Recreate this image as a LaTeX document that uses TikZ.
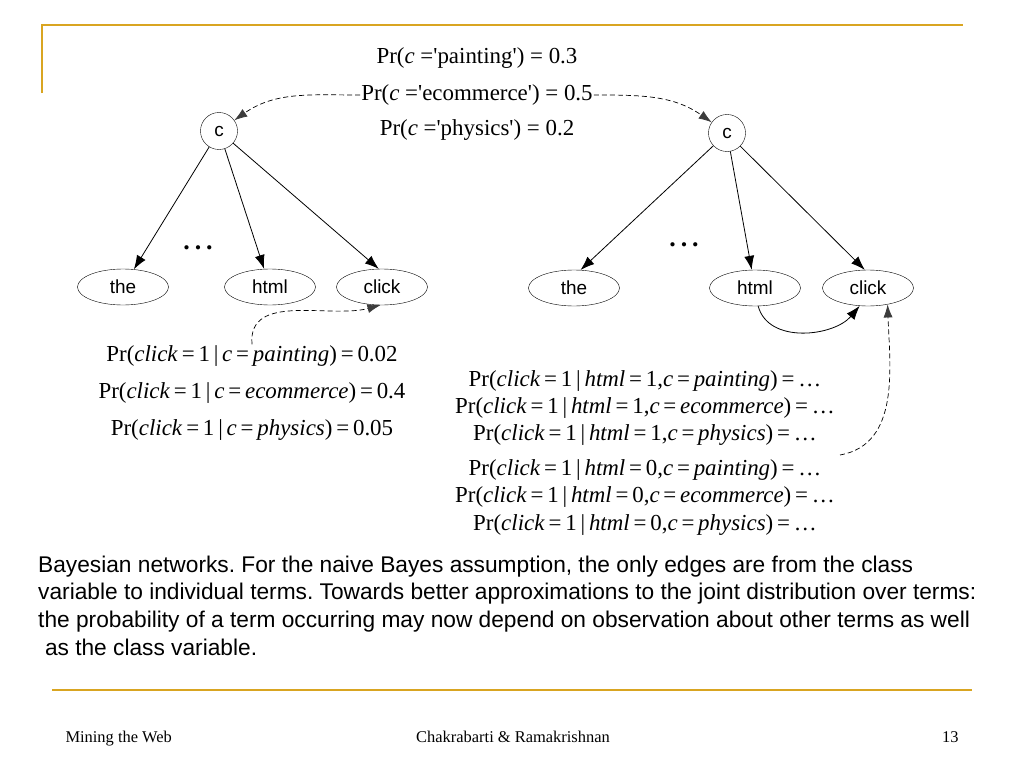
\documentclass[tikz,border=0pt]{standalone}
\usepackage{fontspec}
\setmainfont{Liberation Serif}
\setsansfont{Liberation Sans}
\usepackage{tikz}
\usetikzlibrary{shapes.geometric,arrows.meta}
\definecolor{rulegold}{HTML}{D9A521}
\definecolor{tipgray}{HTML}{3C3C3C}
\newcommand{\lpr}[2]{% class only
Pr(\textit{click}\,=\,1\,|\,\textit{c}\,=\,\textit{#1})\,=\,#2}
\newcommand{\rpr}[2]{% class and html
Pr(\textit{click}\,=\,1\,|\,\textit{html}\,=\,#1,\textit{c}\,=\,\textit{#2})\,=\,\ldots}
\newcommand{\qs}{\textquotesingle}
\newcommand{\spdots}{.\hspace{5bp}.\hspace{5bp}.}
\tikzstyle{classnode} =[
    draw,
    circle,
    minimum size=37bp,
    inner sep=0pt,
    font=\sffamily\fontsize{19}{21}\selectfont
    ]
\tikzstyle{termnode} = [
    draw,
    ellipse,
    minimum width=91bp,
    minimum height=36bp,
    inner sep=0pt,
    font=\sffamily\fontsize{19}{21}\selectfont
    ]
\tikzstyle{edge} = [
    line width=0.8bp,
    -{Latex[length=14bp,width=10bp]}
    ]
\tikzstyle{probedge} = [
    line width=0.7bp,
    dash pattern=on 5bp off 3bp,
    -{Latex[length=13bp,width=9bp,color=tipgray]}
    ]
\tikzstyle{probtext} = [
    inner sep=1bp,
    font=\fontsize{23}{25}\selectfont
    ]
\tikzstyle{smallprob} = [
    inner sep=0bp,
    font=\fontsize{23}{25}\selectfont
    ]
\tikzstyle{dotsnode} = [
    inner sep=0pt,
    anchor=base,
    font=\bfseries\fontsize{26}{28}\selectfont
    ]
\tikzstyle{goldrule} = [
    draw=rulegold,
    line width=2.5bp
    ]

\begin{document}
\frenchspacing
\begin{tikzpicture}[x=1bp,y=-1bp]
\useasboundingbox (0,0) rectangle (1024,768);
\fill[white] (0,0) rectangle (1024,768);
\draw[goldrule] (42,93) -- (42,25) -- (963,25);
\draw[goldrule] (52,690) -- (972,690);

% prior of the class
\node[probtext] (pc1) at (477,58) {Pr(\textit{c} =\qs painting\qs) = 0.3};
\node[probtext] (pc2) at (477,95) {Pr(\textit{c} =\qs ecommerce\qs) = 0.5};
\node[probtext] (pc3) at (477,130) {Pr(\textit{c} =\qs physics\qs) = 0.2};

% naive Bayes
\node[classnode] (cL) at (219,131) {c};
\node[termnode] (theL) at (123,287) {the};
\node[termnode] (htmlL) at (270,287) {html};
\node[termnode] (clickL) at (382,287) {click};
\node[dotsnode] (dotsL) at (198,249) {\spdots};
\draw[edge] (cL) -- (theL);
\draw[edge] (cL) -- (htmlL);
\draw[edge] (cL) -- (clickL.100);

% with an edge between terms
\node[classnode] (cR) at (727,133) {c};
\node[termnode] (theR) at (574,288) {the};
\node[termnode] (htmlR) at (755,288) {html};
\node[termnode] (clickR) at (868,288) {click};
\node[dotsnode] (dotsR) at (684,246) {\spdots};
\draw[edge] (cR) -- (theR.70);
\draw[edge] (cR) -- (htmlR);
\draw[edge] (cR) -- (clickR.100);
\draw[edge] (htmlR.-80) to[out=-75,in=-130] (clickR.-115);

\draw[probedge] (pc2.west) to[out=180,in=35] (cL);
\draw[probedge] (pc2.east) to[out=0,in=145] (cR);

\node[probtext] (lf1) at (252,356) {\lpr{painting}{0.02}};
\node[probtext] (lf2) at (252,393) {\lpr{ecommerce}{0.4}};
\node[probtext] (lf3) at (252,430) {\lpr{physics}{0.05}};
\draw[probedge] (lf1.north) to[out=95,in=195] (clickL.-95);

\node[smallprob] (rf1) at (645,381) {\rpr{1}{painting}};
\node[smallprob] (rf2) at (645,408) {\rpr{1}{ecommerce}};
\node[smallprob] (rf3) at (645,435) {\rpr{1}{physics}};
\node[smallprob] (rf4) at (645,470) {\rpr{0}{painting}};
\node[smallprob] (rf5) at (645,497) {\rpr{0}{ecommerce}};
\node[smallprob] (rf6) at (645,525) {\rpr{0}{physics}};
\coordinate (rstart) at (840,455);
\draw[probedge] (rstart) to[out=10,in=-88] (clickR.-40);

\node[anchor=base west, align=left, inner sep=0pt,
      font=\sffamily\fontsize{22.8}{27.7}\selectfont] (caption) at (38,655) {%
Bayesian networks. For the naive Bayes assumption, the only edges are from the class\\
variable to individual terms. Towards better approximations to the joint distribution over terms:\\
the probability of a term occurring may now depend on observation about other terms as well\\
\hspace{0.3em}as the class variable.};

\node[anchor=base west, font=\fontsize{16.5}{18}\selectfont] (foot1) at (62,742) {Mining the Web};
\node[anchor=base, font=\fontsize{16.5}{18}\selectfont] (foot2) at (513,742) {Chakrabarti \& Ramakrishnan};
\node[anchor=base east, font=\fontsize{16.5}{18}\selectfont] (foot3) at (962,742) {13};
\end{tikzpicture}
\end{document}
